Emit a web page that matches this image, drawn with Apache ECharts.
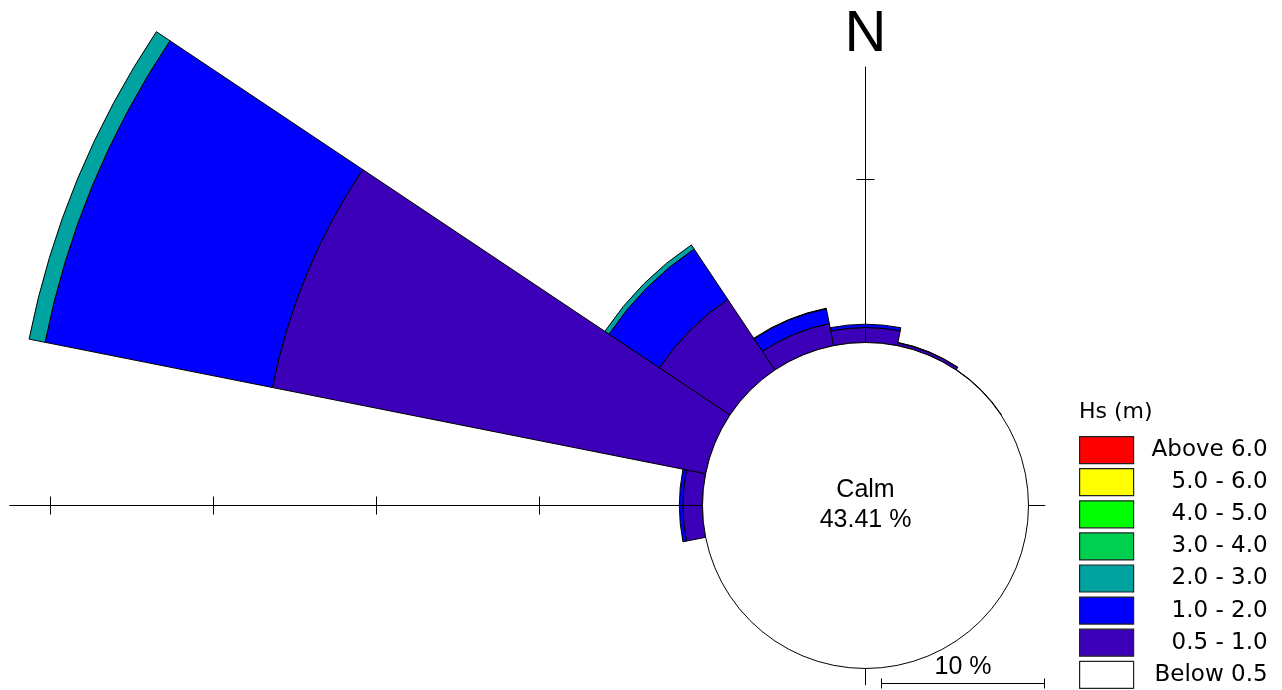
<!DOCTYPE html>
<html>
<head>
<meta charset="utf-8">
<title>Hs rose</title>
<style>
  html, body { margin: 0; padding: 0; background: #ffffff; }
  #chart { width: 1282px; height: 690px; }
</style>
<script src="https://cdn.jsdelivr.net/npm/echarts@6/dist/echarts.min.js"></script>
</head>
<body>
<div id="chart"></div>
<script>
// Direction sectors, clockwise starting from West
const directions = ['W', 'WNW', 'NW', 'NNW', 'N', 'NNE', 'NE', 'ENE',
                    'E', 'ESE', 'SE', 'SSE', 'S', 'SSW', 'SW', 'WSW'];

// Hs classes, legend order (top to bottom)
const classNames = ['Above 6.0', '5.0 - 6.0', '4.0 - 5.0', '3.0 - 4.0',
                    '2.0 - 3.0', '1.0 - 2.0', '0.5 - 1.0', 'Below 0.5'];

// Occurrence (%) per direction for each Hs class (same order as directions)
const hs05to10  = [1.20, 27.10, 5.21, 1.38, 0.92, 0.18, 0.03, 0, 0, 0, 0, 0, 0, 0, 0, 0];
const hs10to20  = [0.22, 14.22, 3.72, 0.93, 0.20, 0.02, 0, 0, 0, 0, 0, 0, 0, 0, 0, 0];
const hs20to30  = [0, 1.00, 0.30, 0.03, 0, 0, 0, 0, 0, 0, 0, 0, 0, 0, 0, 0];
const hs30to40  = [0, 0, 0, 0, 0, 0, 0, 0, 0, 0, 0, 0, 0, 0, 0, 0];
const hs40to50  = [0, 0, 0, 0, 0, 0, 0, 0, 0, 0, 0, 0, 0, 0, 0, 0];
const hs50to60  = [0, 0, 0, 0, 0, 0, 0, 0, 0, 0, 0, 0, 0, 0, 0, 0];
const hsAbove60 = [0, 0, 0, 0, 0, 0, 0, 0, 0, 0, 0, 0, 0, 0, 0, 0];

// Calm (Hs below 0.5 m), %
const calmPct = 43.41;

// Reference axes (%) and their tick values
const westAxisMax = 42.5;
const northAxisMax = 16.9;
const eastAxisMax = 1.0;
const southAxisMax = 1.0;
const westTicks = [10, 20, 30, 40];
const northTicks = [10];
const scaleBarPct = 10;

// ---- layout ----
const CX = 865.5, CY = 505.5;       // rose centre
const CALM_R = 163;                  // calm circle radius, px
const PX_PER_PCT = 16.3;             // radial scale, px per %
const TICK_LEN = 9;

const colors = {
  'Above 6.0': '#ff0000',
  '5.0 - 6.0': '#ffff00',
  '4.0 - 5.0': '#00ff00',
  '3.0 - 4.0': '#00d050',
  '2.0 - 3.0': '#00a3a0',
  '1.0 - 2.0': '#0000ff',
  '0.5 - 1.0': '#3c00b9',
  'Below 0.5': '#ffffff'
};

const stackOrder = [
  ['0.5 - 1.0', hs05to10],
  ['1.0 - 2.0', hs10to20],
  ['2.0 - 3.0', hs20to30],
  ['3.0 - 4.0', hs30to40],
  ['4.0 - 5.0', hs40to50],
  ['5.0 - 6.0', hs50to60],
  ['Above 6.0', hsAbove60]
];

function polarAt(max) {
  return { center: [CX, CY], radius: [CALM_R, CALM_R + max * PX_PER_PCT] };
}

const lineStyle = { color: '#000', width: 1 };

// side: +1 / -1 picks which side of the axis line the ticks are drawn on
function radial(index, max, withLine, ticks, side, extra) {
  return Object.assign({
    polarIndex: index,
    type: 'value',
    min: 0,
    max: max,
    z: 3,
    axisLine: { show: withLine, lineStyle: lineStyle },
    axisTick: ticks
      ? { show: true, customValues: ticks, length: side * TICK_LEN, lineStyle: lineStyle }
      : { show: false },
    axisLabel: { show: false },
    splitLine: { show: false },
    splitArea: { show: false }
  }, extra || {});
}

const axisAngles = [180, 180, 90, 90, 0, 270];
const axisMaxes = [westAxisMax, westAxisMax, northAxisMax, northAxisMax, eastAxisMax, southAxisMax];

const barSeries = stackOrder.map(([name, values]) => ({
  name: name,
  type: 'bar',
  coordinateSystem: 'polar',
  polarIndex: 0,
  stack: 'hs',
  barCategoryGap: '0%',
  clip: false,
  silent: true,
  z: 2,
  itemStyle: { color: colors[name], borderColor: '#000', borderWidth: 1 },
  data: values.map(v => (v > 0 ? v : '-'))
}));

const sbLen = scaleBarPct * PX_PER_PCT;
const SB_LEFT = 881.5, SB_Y = 683.5;

const option = {
  animation: false,
  backgroundColor: '#ffffff',
  title: [{
    text: 'Hs (m)',
    left: 1079,
    top: 401,
    padding: 0,
    textStyle: { fontFamily: 'DejaVu Sans', fontSize: 22, fontWeight: 'normal', color: '#000' }
  }],
  legend: {
    data: classNames,
    orient: 'vertical',
    left: 1079,
    top: 436,
    height: 300,
    padding: 0,
    itemWidth: 54,
    itemHeight: 27,
    itemGap: 3.9,
    icon: 'rect',
    selectedMode: false,
    itemStyle: { borderColor: '#222', borderWidth: 1.2 },
    formatter: name => '{r|' + name + '}',
    textStyle: {
      color: '#000',
      fontFamily: 'DejaVu Sans',
      fontSize: 23,
      rich: { r: { width: 129, align: 'right', fontFamily: 'DejaVu Sans', fontSize: 23, color: '#000' } }
    }
  },
  polar: axisMaxes.map(polarAt),
  angleAxis: axisAngles.map((a, i) => ({
    polarIndex: i,
    type: 'category',
    data: directions,
    boundaryGap: false,
    startAngle: a,
    clockwise: true,
    show: false
  })),
  radiusAxis: [
    radial(0, westAxisMax, true, westTicks, 1),
    radial(1, westAxisMax, false, westTicks, -1),
    radial(2, northAxisMax, true, northTicks, 1, {
      name: 'N',
      nameLocation: 'end',
      nameGap: 3,
      nameTextStyle: { fontFamily: 'Liberation Sans', fontSize: 58, color: '#000' }
    }),
    radial(3, northAxisMax, false, northTicks, -1),
    radial(4, eastAxisMax, true, null, 1),
    radial(5, southAxisMax, true, null, 1)
  ],
  series: barSeries.concat([{
    name: 'Calm',
    type: 'pie',
    center: [CX, CY],
    radius: [0, CALM_R],
    z: 4,
    silent: true,
    avoidLabelOverlap: false,
    emphasis: { disabled: true },
    itemStyle: { color: colors['Below 0.5'], borderColor: '#000', borderWidth: 1 },
    label: {
      show: true,
      position: 'center',
      formatter: 'Calm\n{c} %',
      fontFamily: 'Liberation Sans',
      fontSize: 25,
      lineHeight: 30,
      color: '#000'
    },
    labelLine: { show: false },
    data: [{ name: 'Below 0.5', value: calmPct }]
  }]),
  graphic: [
    { type: 'line', silent: true, shape: { x1: SB_LEFT, y1: SB_Y, x2: SB_LEFT + sbLen, y2: SB_Y }, style: { stroke: '#000', lineWidth: 1 } },
    { type: 'line', silent: true, shape: { x1: SB_LEFT, y1: SB_Y - 5, x2: SB_LEFT, y2: SB_Y + 5 }, style: { stroke: '#000', lineWidth: 1 } },
    { type: 'line', silent: true, shape: { x1: SB_LEFT + sbLen, y1: SB_Y - 5, x2: SB_LEFT + sbLen, y2: SB_Y + 5 }, style: { stroke: '#000', lineWidth: 1 } },
    {
      type: 'text', silent: true,
      x: SB_LEFT + sbLen / 2, y: 667,
      style: {
        text: scaleBarPct + ' %',
        font: '25px "Liberation Sans"',
        fill: '#000',
        align: 'center', verticalAlign: 'middle',
        textAlign: 'center', textVerticalAlign: 'middle'
      }
    }
  ]
};

const chart = echarts.init(document.getElementById('chart'), null, { renderer: 'canvas' });
chart.setOption(option);
</script>
</body>
</html>
